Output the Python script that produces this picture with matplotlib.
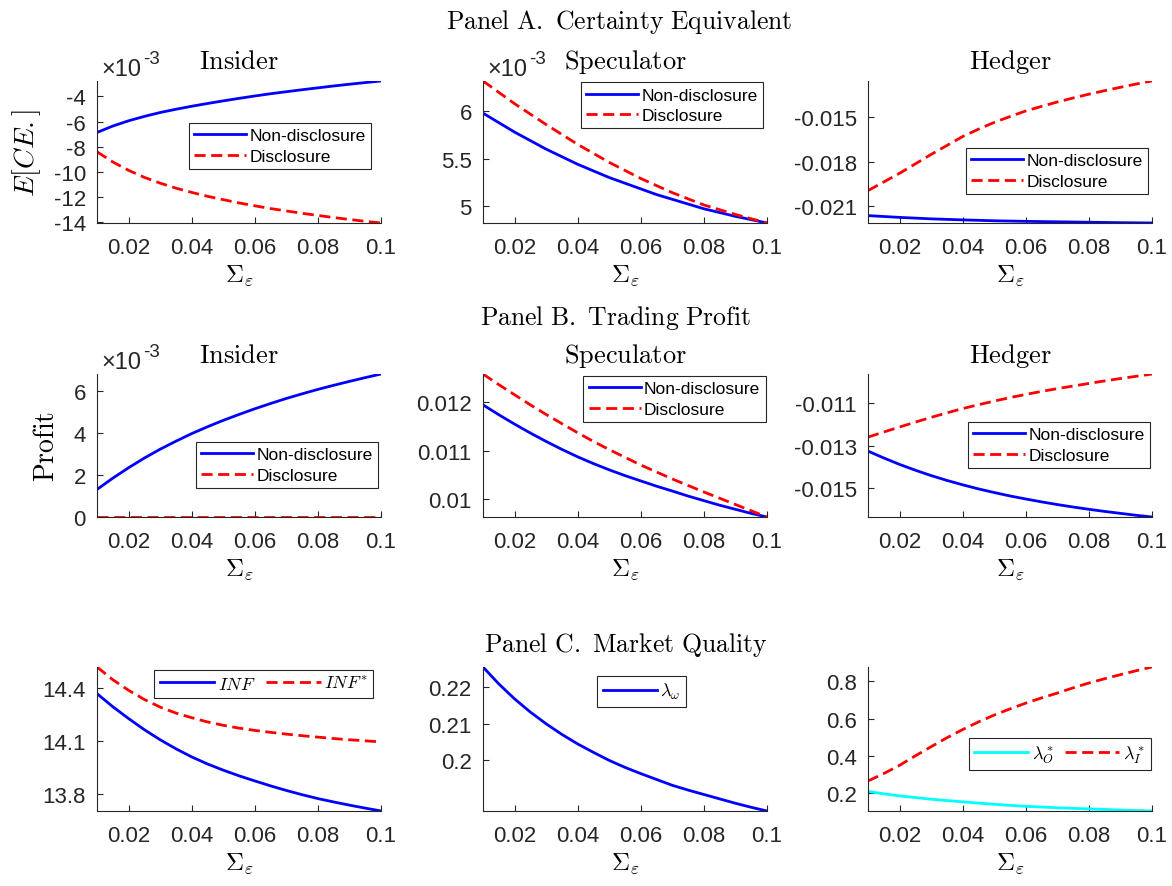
import numpy as np
import matplotlib
matplotlib.use('Agg')
import matplotlib.pyplot as plt
from matplotlib.ticker import FuncFormatter

plt.rcParams['font.family'] = ['Liberation Sans', 'DejaVu Sans']
plt.rcParams['mathtext.fontset'] = 'cm'
plt.rcParams['axes.unicode_minus'] = False

# noise variance grid
sigma_eps = [0.01, 0.015, 0.02, 0.025, 0.03, 0.035, 0.04, 0.045, 0.05, 0.055,
             0.06, 0.065, 0.07, 0.075, 0.08, 0.085, 0.09, 0.095, 0.1]

# Panel A: certainty equivalent (insider / speculator in units of 1e-3)
ce_insider_nd = [-6.87, -6.36, -5.94, -5.59, -5.28, -5.02, -4.78, -4.56, -4.35, -4.15,
                 -3.96, -3.78, -3.62, -3.46, -3.31, -3.16, -3.02, -2.89, -2.76]
ce_insider_d = [-8.42, -9.23, -9.90, -10.46, -10.92, -11.32, -11.66, -11.97, -12.24, -12.50,
                -12.73, -12.95, -13.14, -13.33, -13.50, -13.67, -13.82, -13.97, -14.10]
ce_spec_nd = [5.98, 5.88, 5.78, 5.69, 5.60, 5.52, 5.44, 5.37, 5.30, 5.24,
              5.18, 5.12, 5.07, 5.02, 4.97, 4.93, 4.89, 4.855, 4.82]
ce_spec_d = [6.32, 6.20, 6.08, 5.97, 5.86, 5.755, 5.65, 5.555, 5.46, 5.375,
             5.29, 5.215, 5.14, 5.075, 5.01, 4.96, 4.91, 4.865, 4.82]
ce_hedger_nd = [-0.02168, -0.02174, -0.02180, -0.02185, -0.02190, -0.021935, -0.02197, -0.02200, -0.02203, -0.02205,
                -0.02207, -0.022085, -0.02210, -0.022115, -0.02213, -0.022145, -0.02216, -0.02217, -0.02218]
ce_hedger_d = [-0.01998, -0.01939, -0.01880, -0.01816, -0.01752, -0.01691, -0.01630, -0.01580, -0.01534, -0.01494,
               -0.01456, -0.01425, -0.01395, -0.01368, -0.01342, -0.01318, -0.01295, -0.01273, -0.01252]

# Panel B: trading profit (insider / speculator in units of 1e-3)
pr_insider_nd = [1.31, 1.845, 2.34, 2.80, 3.22, 3.60, 3.96, 4.285, 4.59, 4.87,
                 5.14, 5.39, 5.63, 5.85, 6.06, 6.255, 6.44, 6.62, 6.79]
pr_insider_d = [0, 0, 0, 0, 0, 0, 0, 0, 0, 0, 0, 0, 0, 0, 0, 0, 0, 0, 0]
pr_spec_nd = [11.95, 11.745, 11.55, 11.365, 11.19, 11.025, 10.87, 10.73, 10.60, 10.48,
              10.37, 10.26, 10.16, 10.055, 9.96, 9.865, 9.78, 9.695, 9.62]
pr_spec_d = [12.59, 12.37, 12.16, 11.95, 11.75, 11.56, 11.37, 11.19, 11.02, 10.86,
             10.70, 10.555, 10.41, 10.275, 10.14, 10.01, 9.88, 9.75, 9.62]
pr_hedger_nd = [-0.01326, -0.01358, -0.01388, -0.01415, -0.01440, -0.014625, -0.01483, -0.01502, -0.01519, -0.01535,
                -0.01549, -0.015625, -0.01575, -0.015865, -0.01597, -0.01607, -0.01616, -0.01625, -0.01633]
pr_hedger_d = [-0.01261, -0.01237, -0.01214, -0.01191, -0.01169, -0.01148, -0.01128, -0.01110, -0.01093, -0.01077,
               -0.01062, -0.01048, -0.01035, -0.01023, -0.01011, -0.00999, -0.00988, -0.009775, -0.00967]

# Panel C: market quality
inf = [14.366, 14.292, 14.225, 14.162, 14.105, 14.054, 14.008, 13.968, 13.933, 13.901,
       13.872, 13.844, 13.818, 13.794, 13.772, 13.753, 13.735, 13.718, 13.702]
inf_star = [14.517, 14.445, 14.385, 14.333, 14.290, 14.256, 14.230, 14.206, 14.187, 14.171,
            14.158, 14.147, 14.137, 14.128, 14.120, 14.112, 14.105, 14.099, 14.093]
lam_w = [0.2255, 0.2209, 0.2168, 0.2132, 0.2100, 0.2071, 0.2045, 0.2022, 0.2000, 0.1981,
         0.1964, 0.1948, 0.1932, 0.1919, 0.1907, 0.1895, 0.1883, 0.1872, 0.1862]
lam_o = [0.209, 0.196, 0.185, 0.176, 0.167, 0.160, 0.153, 0.146, 0.140, 0.134,
         0.129, 0.125, 0.121, 0.118, 0.115, 0.112, 0.109, 0.1065, 0.104]
lam_i = [0.265, 0.305, 0.349, 0.400, 0.449, 0.497, 0.541, 0.582, 0.619, 0.652,
         0.683, 0.711, 0.737, 0.765, 0.791, 0.814, 0.836, 0.857, 0.877]

x_ticks = [0.02, 0.04, 0.06, 0.08, 0.1]
GRAY = '#262626'
TICK_FS = 16

fig = plt.figure(figsize=(11.72, 8.87), dpi=100)

lefts = [0.0828, 0.4121, 0.7406]
bottoms = [0.7475, 0.416, 0.0846]
heights = [0.1601, 0.1612, 0.1623]
W = 0.2423


def make_ax(r, c):
    ax = fig.add_axes([lefts[c], bottoms[r], W, heights[r]])
    for s in ['top', 'right']:
        ax.spines[s].set_visible(False)
    for s in ['left', 'bottom']:
        ax.spines[s].set_color(GRAY)
        ax.spines[s].set_linewidth(0.8)
    ax.tick_params(direction='in', length=4, width=0.8, colors=GRAY,
                   labelsize=TICK_FS, labelcolor=GRAY)
    ax.tick_params(axis='x', pad=10)
    ax.tick_params(axis='y', pad=8)
    ax.set_xlim(0.01, 0.1)
    ax.set_xticks(x_ticks)
    ax.xaxis.set_major_formatter(FuncFormatter(lambda v, p: '%g' % round(v, 4)))
    ax.set_xlabel(r'$\Sigma_\varepsilon$', fontsize=18, labelpad=3)
    return ax


def tight_y(ax, *series):
    lo = min(min(s) for s in series)
    hi = max(max(s) for s in series)
    ax.set_ylim(lo, hi)


def sci_axis(ax):
    # series already in units of 1e-3, exponent drawn above the axis
    ax.yaxis.set_major_formatter(FuncFormatter(lambda v, p: '%g' % round(v, 4)))
    ax.annotate('×10', xy=(0, 1), xycoords='axes fraction', xytext=(3, 4),
                textcoords='offset points', ha='left', va='baseline',
                fontsize=17, color=GRAY)
    ax.annotate('-3', xy=(0, 1), xycoords='axes fraction', xytext=(33, 13),
                textcoords='offset points', ha='left', va='baseline',
                fontsize=13.5, color=GRAY)


def plain_y(ax):
    ax.yaxis.set_major_formatter(FuncFormatter(lambda v, p: '%g' % round(v, 5)))


def two_lines(ax, nd, d, labels=('Non-disclosure', 'Disclosure'), c1='b'):
    ax.plot(sigma_eps, nd, '-', color=c1, lw=2, label=labels[0])
    ax.plot(sigma_eps, d, '--', color='r', lw=2, dashes=(4, 2), label=labels[1])
    tight_y(ax, nd, d)


def add_legend(ax, anchor, loc='upper right', ncol=1, fs=12.5):
    leg = ax.legend(loc=loc, bbox_to_anchor=anchor, borderaxespad=0, ncol=ncol,
                    fontsize=fs, frameon=True, fancybox=False, framealpha=1,
                    edgecolor=GRAY, handlelength=3.0, handletextpad=0.2,
                    borderpad=0.3, labelspacing=0.3, columnspacing=0.6)
    leg.get_frame().set_linewidth(0.8)
    return leg


title_kw = dict(fontsize=19, pad=9)
ylab_kw = dict(fontsize=20)

# Panel A
ax = make_ax(0, 0)
two_lines(ax, ce_insider_nd, ce_insider_d)
ax.set_yticks([-14, -12, -10, -8, -6, -4])
sci_axis(ax)
ax.set_ylabel(r'$E[CE.]$', **ylab_kw)
ax.yaxis.set_label_coords(-0.19, 0.5)
ax.set_title(r'$\mathrm{Insider}$', **title_kw)
add_legend(ax, (0.965, 0.704))

ax = make_ax(0, 1)
two_lines(ax, ce_spec_nd, ce_spec_d)
ax.set_yticks([5, 5.5, 6])
sci_axis(ax)
ax.set_title(r'$\mathrm{Speculator}$', **title_kw)
add_legend(ax, (0.986, 0.99))

ax = make_ax(0, 2)
two_lines(ax, ce_hedger_nd, ce_hedger_d)
ax.set_yticks([-0.021, -0.018, -0.015])
plain_y(ax)
ax.set_title(r'$\mathrm{Hedger}$', **title_kw)
add_legend(ax, (0.986, 0.528))

# Panel B
ax = make_ax(1, 0)
two_lines(ax, pr_insider_nd, pr_insider_d)
ax.set_yticks([0, 2, 4, 6])
sci_axis(ax)
ax.set_ylabel(r'$\mathrm{Profit}$', **ylab_kw)
ax.yaxis.set_label_coords(-0.13, 0.5)
ax.set_title(r'$\mathrm{Insider}$', **title_kw)
add_legend(ax, (0.989, 0.524))

ax = make_ax(1, 1)
ax.plot(sigma_eps, [v * 1e-3 for v in pr_spec_nd], '-', color='b', lw=2, label='Non-disclosure')
ax.plot(sigma_eps, [v * 1e-3 for v in pr_spec_d], '--', color='r', lw=2, dashes=(4, 2), label='Disclosure')
ax.set_ylim(min(pr_spec_nd) * 1e-3, max(pr_spec_d) * 1e-3)
ax.set_yticks([0.01, 0.011, 0.012])
plain_y(ax)
ax.set_title(r'$\mathrm{Speculator}$', **title_kw)
add_legend(ax, (0.995, 0.986))

ax = make_ax(1, 2)
two_lines(ax, pr_hedger_nd, pr_hedger_d)
ax.set_yticks([-0.015, -0.013, -0.011])
plain_y(ax)
ax.set_title(r'$\mathrm{Hedger}$', **title_kw)
add_legend(ax, (0.993, 0.664))

# Panel C
ax = make_ax(2, 0)
two_lines(ax, inf, inf_star, labels=(r'$INF$', r'$INF^{*}$'))
ax.set_yticks([13.8, 14.1, 14.4])
plain_y(ax)
add_legend(ax, (0.972, 0.979), ncol=2, fs=13)

ax = make_ax(2, 1)
ax.plot(sigma_eps, lam_w, '-', color='b', lw=2, label=r'$\lambda_\omega$')
tight_y(ax, lam_w)
ax.set_yticks([0.2, 0.21, 0.22])
plain_y(ax)
add_legend(ax, (0.558, 0.9375), loc='upper center', fs=13)

ax = make_ax(2, 2)
two_lines(ax, lam_o, lam_i, labels=(r'$\lambda^*_O$', r'$\lambda^*_I$'), c1='#00ffff')
ax.set_yticks([0.2, 0.4, 0.6, 0.8])
plain_y(ax)
add_legend(ax, (0.996, 0.507), ncol=2, fs=13)

# panel headings
fig.text(619 / 1172, 1 - 22 / 887, r'$\mathrm{Panel\ A.\ Certainty\ Equivalent}$',
         ha='center', va='center', fontsize=18.5)
fig.text(616 / 1172, 1 - 318 / 887, r'$\mathrm{Panel\ B.\ Trading\ Profit}$',
         ha='center', va='center', fontsize=18.5)
fig.text(626 / 1172, 1 - 645 / 887, r'$\mathrm{Panel\ C.\ Market\ Quality}$',
         ha='center', va='center', fontsize=18.5)

fig.savefig('out.png', dpi=100, facecolor='white')
